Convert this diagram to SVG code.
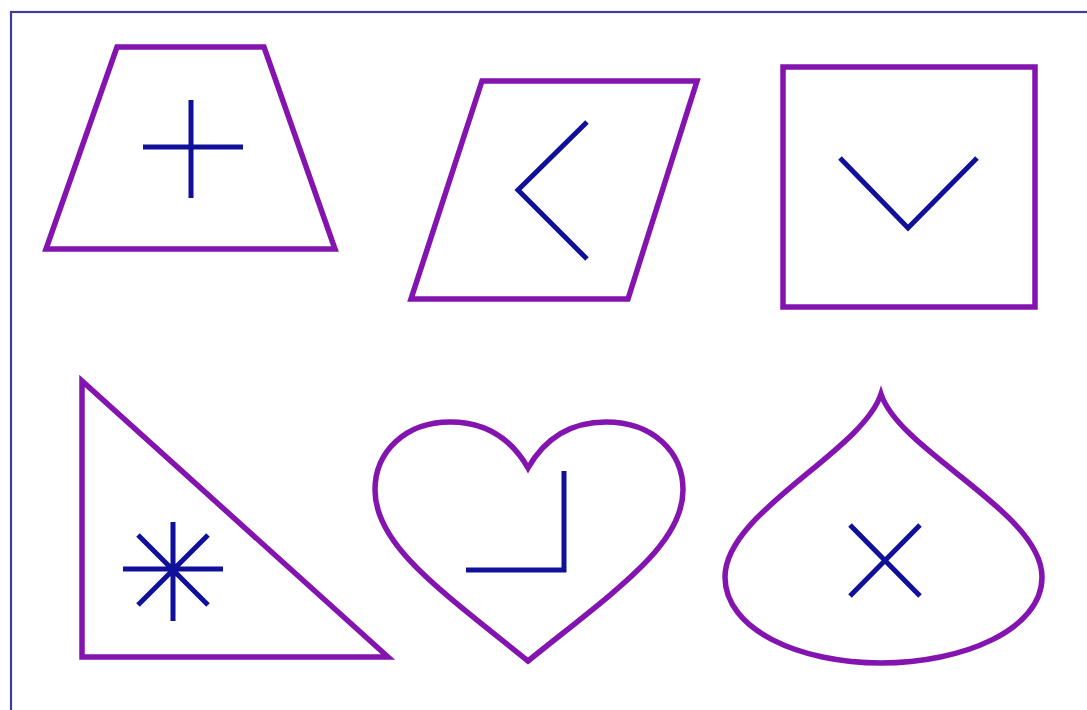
<svg xmlns="http://www.w3.org/2000/svg" width="1087" height="710" viewBox="0 0 1087 710">
<style>
.shape{fill:none;stroke:#8414b0;stroke-width:5.5;stroke-linejoin:miter}
.sym{fill:none;stroke:#10109a;stroke-width:5;stroke-linecap:butt;stroke-linejoin:miter}
</style>
<rect x="0" y="0" width="1087" height="710" fill="#ffffff"/>
<rect x="11" y="12" width="1090" height="710" fill="none" stroke="#3e3e92" stroke-width="2.2"/>
<g id="trapezoid">
<polygon class="shape" points="117,47 264,47 335,249 46,249"/>
<path class="sym" d="M191,100V198M143,147H243"/>
</g>
<g id="parallelogram">
<polygon class="shape" points="482,81 697,81 628,299 411,299"/>
<path class="sym" d="M587,122L518,190L587,259"/>
</g>
<g id="square">
<rect class="shape" x="783" y="67" width="252" height="240"/>
<path class="sym" d="M840,158L908,228L977,158"/>
</g>
<g id="triangle">
<polygon class="shape" points="82,381 82,657 388,657"/>
<path class="sym" d="M173,522V621M123,569H223M138,535L208,605M208,535L138,605"/>
</g>
<g id="heart">
<path class="shape" d="M528,468C512,440 488,422 450,422C405,422 375,452 375,490C375,545 440,590 528,661C616,590 683,545 683,490C683,452 653,422 606,422C568,422 544,440 528,468Z"/>
<path class="sym" d="M564,471V570H466"/>
</g>
<g id="drop">
<path class="shape" d="M881,394C862,452 725,512 725,577C725,630 800,663 881,663C962,663 1042,630 1042,577C1042,512 900,452 881,394Z"/>
<path class="sym" d="M850,525L920,596M920,525L850,596"/>
</g>
<g id="connectors"></g>
</svg>
